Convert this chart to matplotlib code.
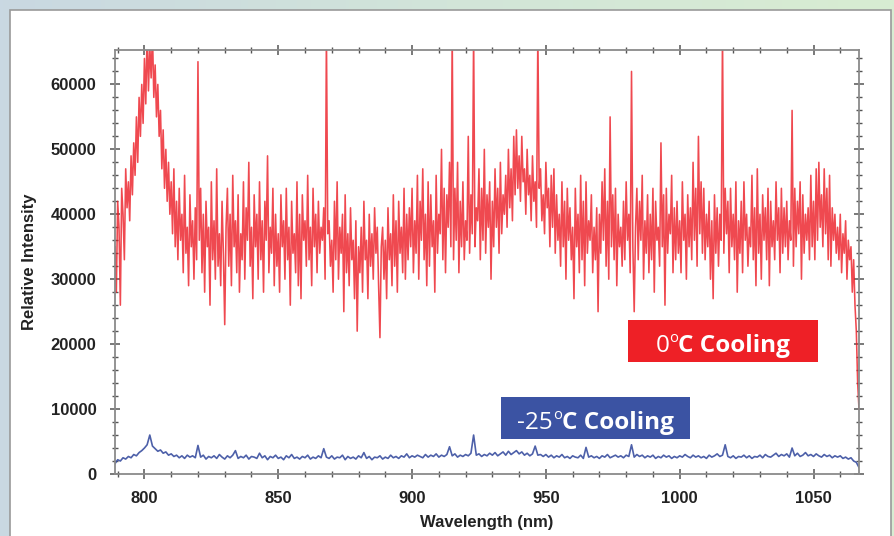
import numpy as np
import matplotlib
matplotlib.use('Agg')
import matplotlib.pyplot as plt
from matplotlib.patches import Rectangle
from matplotlib.ticker import MultipleLocator
from matplotlib.colors import LinearSegmentedColormap

# ---------------- data ----------------
red_start_nm = 789.0        # 0.5 nm sampling
red_k = [  # relative intensity in thousands, 0 C cooling
    35, 28, 42, 38, 26, 44, 40, 33, 47, 41, 45, 39, 49, 43, 51, 46, 55, 48, 58, 52,
    60, 54, 64, 57, 68, 59, 66, 61, 68, 58, 63, 55, 60, 52, 56, 47, 53, 44, 50, 42,
    48, 40, 45, 37, 47, 35, 42, 33, 44, 36, 40, 31, 46, 34, 38, 29, 43, 35, 39, 30,
    41, 33, 63.5, 36, 44, 31, 40, 28, 42, 35, 38, 26, 45, 33, 39, 30, 47, 32, 37, 29,
    42, 34, 23, 38, 44, 32, 40, 29, 46, 35, 39, 31, 43, 28, 37, 33, 45, 30, 41, 36,
    48, 32, 38, 27, 43, 35, 40, 30, 45, 33, 39, 28, 42, 36, 49, 31, 38, 34, 44, 29,
    40, 32, 37, 28, 43, 35, 39, 30, 44, 33, 38, 26, 42, 34, 37, 31, 45, 29, 40, 27,
    43, 36, 39, 32, 46, 33, 38, 29, 44, 35, 40, 31, 42, 34, 38, 36, 41, 30, 68, 37,
    39, 32, 36, 28, 42, 33, 45, 30, 38, 34, 40, 25, 43, 31, 37, 29, 41, 33, 36, 27,
    39, 22, 35, 31, 38, 28, 42, 33, 36, 27, 40, 32, 37, 30, 41, 34, 38, 29, 21, 35,
    38, 30, 36, 27, 41, 33, 37, 29, 43, 32, 39, 28, 42, 34, 38, 31, 44, 30, 40, 33,
    41, 35, 44, 31, 39, 34, 46, 30, 42, 36, 47, 33, 40, 29, 45, 32, 43, 35, 39, 28,
    46, 34, 40, 37, 50, 33, 44, 31, 43, 38, 48, 35, 68, 33, 44, 36, 48, 31, 42, 35,
    45, 33, 39, 36, 52, 34, 43, 37, 68, 35, 41, 39, 47, 33, 44, 36, 50, 34, 43, 38,
    45, 30, 42, 35, 47, 38, 44, 34, 48, 37, 43, 40, 46, 38, 50, 41, 47, 39, 52, 43,
    53, 44, 49, 42, 52, 45, 47, 40, 50, 43, 46, 39, 49, 42, 45, 38, 68, 44, 47, 39,
    43, 37, 48, 41, 44, 35, 46, 38, 47, 34, 43, 36, 40, 32, 45, 35, 42, 30, 44, 36,
    41, 33, 38, 27, 44, 35, 40, 31, 46, 33, 42, 29, 45, 34, 39, 36, 43, 31, 38, 33,
    41, 25, 40, 34, 45, 36, 47, 32, 42, 30, 55, 35, 43, 33, 44, 29, 40, 35, 38, 32,
    42, 33, 45, 36, 40, 31, 62, 35, 25, 38, 44, 33, 42, 36, 46, 30, 39, 34, 43, 31,
    40, 33, 44, 28, 42, 36, 38, 32, 51, 35, 43, 26, 44, 34, 40, 37, 46, 31, 41, 33,
    42, 34, 39, 31, 45, 36, 40, 30, 43, 35, 41, 33, 48, 36, 44, 32, 52, 37, 45, 34,
    44, 33, 40, 35, 42, 30, 39, 27, 43, 34, 41, 32, 40, 36, 68, 34, 44, 37, 42, 31,
    44, 35, 40, 33, 45, 28, 39, 34, 42, 31, 45, 36, 40, 32, 38, 35, 46, 33, 41, 29,
    47, 34, 40, 30, 43, 36, 41, 33, 44, 29, 42, 35, 39, 33, 45, 36, 41, 31, 44, 34,
    41, 35, 42, 33, 39, 36, 56, 32, 44, 35, 42, 37, 45, 30, 43, 34, 40, 36, 41, 33,
    46, 35, 42, 33, 47, 36, 48, 38, 43, 35, 47, 37, 44, 33, 46, 32, 41, 36, 40, 34,
    38, 33, 40, 31, 37, 34, 39, 30, 36, 33, 35, 28, 33, 26, 22, 14, 10,
]
blue_start_nm = 789.0       # 1 nm sampling
blue_k = [  # relative intensity in thousands, -25 C cooling
    1.6, 2.2, 2.0, 2.5, 2.3, 2.7, 2.5, 3.0, 2.8, 3.3,
    3.6, 4.0, 4.5, 6.0, 4.3, 3.9, 3.5, 3.7, 3.2, 3.4,
    2.9, 3.1, 2.7, 2.9, 2.5, 2.8, 2.4, 2.9, 2.6, 2.8,
    2.5, 4.4, 2.6, 2.9, 2.3, 2.7, 2.5, 2.8, 2.4, 3.0,
    2.6, 2.3, 2.8, 2.5, 2.9, 3.6, 2.4, 2.7, 2.5, 2.9,
    2.3, 2.7, 2.6, 2.4, 3.2, 2.5, 2.8, 2.2, 2.7, 2.5,
    2.9, 2.4, 2.6, 2.2, 2.8, 2.5, 3.0, 2.4, 2.6, 2.3,
    2.7, 2.5, 2.9, 2.3, 2.6, 2.4, 2.8, 2.5, 3.9, 2.6,
    2.4, 2.8, 2.3, 2.6, 2.5, 2.9, 2.2, 2.7, 2.4, 2.6,
    2.3, 2.8, 2.5, 3.3, 2.4, 2.7, 2.2, 2.6, 2.5, 2.8,
    2.3, 2.6, 2.4, 2.9, 2.5, 2.7, 2.4, 2.8, 2.6, 3.1,
    2.5, 2.8, 2.6, 2.9, 2.7, 2.5, 3.0, 2.6, 2.9, 2.7,
    3.1, 2.6, 2.9, 2.7, 3.0, 4.2, 2.8, 3.1, 2.6, 2.9,
    2.7, 3.0, 2.8, 3.2, 6.0, 2.9, 3.1, 2.7, 3.0, 2.8,
    3.2, 2.9, 3.3, 2.8, 3.1, 3.4, 2.9, 3.5, 3.0, 3.3,
    3.6, 3.1, 3.4, 2.9, 3.2, 2.8, 3.1, 4.3, 2.9, 3.0,
    2.7, 3.0, 2.6, 2.9, 2.5, 2.8, 2.6, 3.0, 2.5, 2.7,
    2.4, 2.8, 2.6, 2.5, 2.9, 2.4, 4.1, 2.6, 2.8, 2.5,
    2.7, 2.4, 2.8, 2.6, 3.0, 2.5, 2.7, 2.9, 2.6, 2.8,
    2.5, 2.9, 2.7, 4.5, 2.6, 3.0, 2.7, 2.9, 2.5, 2.8,
    2.6, 2.9, 2.4, 2.7, 2.5, 2.9, 2.6, 2.8, 2.4, 2.7,
    2.5, 2.8, 2.6, 3.0, 2.7, 2.5, 2.9, 2.6, 2.8, 2.5,
    2.7, 2.4, 2.9, 2.6, 2.8, 3.1, 2.7, 2.9, 4.5, 2.7,
    2.5, 2.8, 2.4, 2.7, 2.6, 2.9, 2.5, 2.8, 2.4, 2.7,
    2.6, 2.9, 2.5, 3.0, 2.7, 2.6, 2.9, 3.2, 2.7, 3.0,
    2.8, 3.1, 2.6, 4.0, 2.8, 3.2, 2.7, 2.9, 3.3, 2.8,
    3.0, 2.7, 3.1, 2.8, 2.6, 3.0, 2.7, 2.9, 2.5, 2.8,
    2.6, 2.8, 2.4, 2.6, 2.3, 2.5, 2.0, 1.8, 1.0,
]
x_ticks = [800, 850, 900, 950, 1000, 1050]
y_ticks = [0, 10000, 20000, 30000, 40000, 50000, 60000]
red_label = ("0", "C Cooling")
blue_label = ("-25", "C Cooling")

red_wl = red_start_nm + 0.5 * np.arange(len(red_k))
blue_wl = blue_start_nm + 1.0 * np.arange(len(blue_k))
red_vals = np.array(red_k) * 1000
blue_vals = np.array(blue_k) * 1000

# ---------------- figure ----------------
W, H = 894, 536
fig = plt.figure(figsize=(W / 100, H / 100), dpi=100)

bg = fig.add_axes([0, 0, 1, 1], zorder=-10)
cmap = LinearSegmentedColormap.from_list('bg', ['#c9d8e2', '#d2e5d9', '#d8edd2'])
bg.imshow(np.linspace(0, 1, 256)[None, :], aspect='auto', cmap=cmap,
          extent=[0, 1, 0, 1])
bg.add_patch(Rectangle((10 / W, -0.02), (891 - 10) / W, 1 - 10 / H + 0.02,
                       transform=bg.transAxes, facecolor='white',
                       edgecolor='#9a9a9a', lw=1.2))
bg.set_xlim(0, 1); bg.set_ylim(0, 1)
bg.axis('off')

ax = fig.add_axes([115 / W, 62 / H, 744 / W, 424 / H])
ax.plot(red_wl, red_vals, color='#ec1c24', lw=1.15, alpha=0.8)
ax.plot(blue_wl, blue_vals, color='#3a4fa0', lw=1.2, alpha=0.9)
ax.set_xlim(789, 1067)
ax.set_ylim(0, 65300)

ax.set_xticks(x_ticks)
ax.set_yticks(y_ticks)
ax.xaxis.set_minor_locator(MultipleLocator(10))
ax.yaxis.set_minor_locator(MultipleLocator(2000))
for s in ax.spines.values():
    s.set_color('#8a8a8a')
    s.set_linewidth(1.3)
ax.tick_params(which='major', direction='inout', length=7, width=1.1,
               color='#555555', top=True, right=True)
ax.tick_params(which='minor', direction='inout', length=4, width=1.0,
               color='#555555', top=True, right=True)
ax.tick_params(axis='y', which='major', pad=10)
ax.tick_params(axis='x', which='major', pad=9)
for lab in ax.get_xticklabels() + ax.get_yticklabels():
    lab.set_fontfamily('Liberation Sans')
    lab.set_fontweight('bold')
    lab.set_fontsize(12)
    lab.set_color('#222222')

fig.text(30 / W, 1 - 262 / H, 'Relative Intensity', rotation=90,
         ha='center', va='center', fontsize=12, fontweight='bold',
         family='Liberation Sans', color='#222222')
fig.text(487 / W, 1 - 523 / H, 'Wavelength (nm)', ha='center', va='center',
         fontsize=12, fontweight='bold', family='Liberation Sans',
         color='#222222')

# ---------------- labelled boxes ----------------
renderer = fig.canvas.get_renderer()


def boxed_label(x0, y0, x1, y1, color, parts, size):
    fig.patches.append(Rectangle((x0 / W, 1 - y1 / H), (x1 - x0) / W,
                                 (y1 - y0) / H, transform=fig.transFigure,
                                 facecolor=color, edgecolor='none', zorder=5))
    base = 1 - (y0 + 32) / H
    num, rest = parts
    t1 = fig.text(0, base, num, ha='left', va='baseline', fontsize=size,
                  family='Open Sans', color='white', zorder=6)
    t2 = fig.text(0, base + 10 / H, 'o', ha='left', va='baseline',
                  fontsize=size * 0.6, family='Open Sans', color='white',
                  zorder=6)
    t3 = fig.text(0, base, rest, ha='left', va='baseline', fontsize=size,
                  family='Open Sans', fontweight='bold', color='white',
                  zorder=6)
    w1 = t1.get_window_extent(renderer).width
    w2 = t2.get_window_extent(renderer).width
    w3 = t3.get_window_extent(renderer).width
    total = w1 + w2 + w3
    start = (x0 + x1) / 2 - total / 2
    t1.set_x(start / W)
    t2.set_x((start + w1) / W)
    t3.set_x((start + w1 + w2) / W)


boxed_label(628, 320, 818, 362, '#ee2026', red_label, 17.5)
boxed_label(501, 397, 690, 439, '#3b53a3', blue_label, 17.5)

fig.savefig('out.png', dpi=100)
